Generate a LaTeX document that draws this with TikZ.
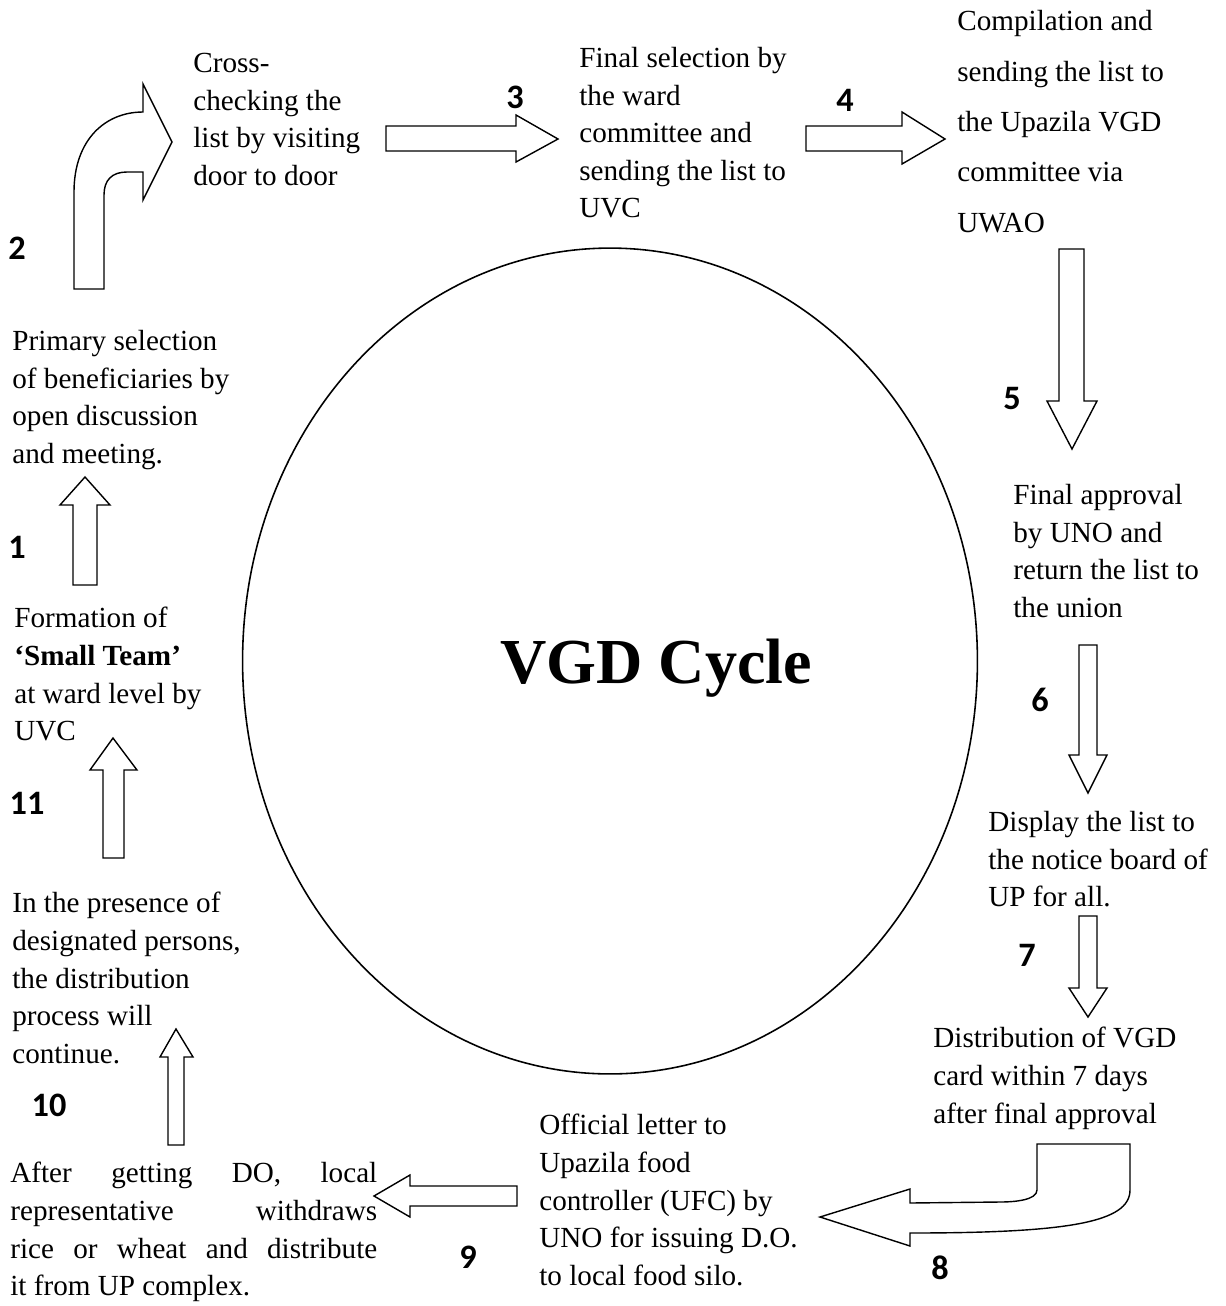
\documentclass[tikz,border=0pt]{standalone}
\usepackage{fontspec}
\setmainfont{Liberation Serif}
\newfontfamily\numfont{Carlito}
\usetikzlibrary{positioning,shapes.geometric}

\begin{document}
\begin{tikzpicture}[x=0.02cm, y=-0.02cm, >=latex]
			\tikzstyle{step text}=[anchor=north west, inner sep=0pt, align=left, font=\fontsize{16.6}{21.4}\selectfont]
			\tikzstyle{step number}=[inner sep=0pt, font=\numfont\bfseries\fontsize{19.5}{21}\selectfont]
			\tikzstyle{block arrow}=[draw, line width=0.8pt, fill=white, line join=miter]
			\useasboundingbox (0,0) rectangle (1226,1306);
			%Centre
			\node[draw, ellipse, line width=0.9pt, minimum width=14.7cm, minimum height=16.52cm](cycle) at (610,661){};
			\node[font=\fontsize{36.5}{40}\selectfont\bfseries](title) at (656,668){VGD Cycle};
			%Steps
			\node[step text](formation) at (14,607){Formation of\\\textbf{`Small Team'}\\at ward level by\\UVC};
			\node[step text](primary) at (12,330){Primary selection\\of beneficiaries by\\open discussion\\and meeting.};
			\node[step text](crosscheck) at (193,53){Cross-\\checking the\\list by visiting\\door to door};
			\node[step text](wardsel) at (579,47){Final selection by\\the ward\\committee and\\sending the list to\\UVC};
			\node[step text, font=\fontsize{16.6}{28.7}\selectfont](compile) at (957,10){Compilation and\\sending the list to\\the Upazila VGD\\committee via\\UWAO};
			\node[step text](approval) at (1013,484){Final approval\\by UNO and\\return the list to\\the union};
			\node[step text](display) at (988,811){Display the list to\\the notice board of\\UP for all.};
			\node[step text](distrib) at (933,1027){Distribution of VGD\\card within 7 days\\after final approval};
			\node[step text](letter) at (539,1114){Official letter to\\Upazila food\\controller (UFC) by\\UNO for issuing D.O.\\to local food silo.};
			\node[step text, align=justify, text width=7.34cm](withdraw) at (10,1162){After getting DO, local\linebreak representative withdraws\linebreak rice or wheat and distribute\linebreak it from UP complex.};
			\node[step text](presence) at (12,892){In the presence of\\designated persons,\\the distribution\\process will\\continue.};
			%Numbers
			\node[step number](n1) at (17,547){1};
			\node[step number](n2) at (17,248){2};
			\node[step number](n3) at (515,97){3};
			\node[step number](n4) at (845,100){4};
			\node[step number](n5) at (1012,398){5};
			\node[step number](n6) at (1040,700){6};
			\node[step number](n7) at (1027,955){7};
			\node[step number](n8) at (940,1268){8};
			\node[step number](n9) at (468,1257){9};
			\node[step number](n10) at (49,1105){10};
			\node[step number](n11) at (27,803){11};
			%Arrows Up the left side
			\draw[block arrow] (73,585) -- (73,505) -- (60,505) -- (85,477) -- (110,505) -- (97,505) -- (97,585) -- cycle;
			\draw[block arrow] (74,289) -- (74,192) .. controls (74,140) and (105,112) .. (143,112) -- (143,84) -- (172,142) -- (143,200) -- (143,172) -- (127,172) .. controls (112,172) and (104,180) .. (104,195) -- (104,289) -- cycle;
			%Arrows Along the top
			\draw[block arrow] (386,126) -- (516,126) -- (516,115) -- (558,139) -- (516,162) -- (516,151) -- (386,151) -- cycle;
			\draw[block arrow] (806,126) -- (902,126) -- (902,112) -- (945,139) -- (902,164) -- (902,151) -- (806,151) -- cycle;
			%Arrows Down the right side
			\draw[block arrow] (1059,249) -- (1084,249) -- (1084,401) -- (1097,401) -- (1072,449) -- (1047,401) -- (1059,401) -- cycle;
			\draw[block arrow] (1079,645) -- (1097,645) -- (1097,755) -- (1107,755) -- (1088,793) -- (1069,755) -- (1079,755) -- cycle;
			\draw[block arrow] (1079,916) -- (1097,916) -- (1097,988) -- (1107,988) -- (1088,1017) -- (1069,988) -- (1079,988) -- cycle;
			%Arrows Along the bottom
			\draw[block arrow] (1037,1144) -- (1130,1144) -- (1130,1190) .. controls (1130,1222) and (1070,1233) .. (910,1233) -- (910,1246) -- (820,1217) -- (910,1189) -- (910,1203) -- (1000,1202) .. controls (1015,1202) and (1037,1200) .. (1037,1190) -- cycle;
			\draw[block arrow] (517,1186) -- (410,1186) -- (410,1175) -- (374,1196) -- (410,1217) -- (410,1206) -- (517,1206) -- cycle;
			%Arrows Back up
			\draw[block arrow] (168,1145) -- (168,1057) -- (160,1057) -- (176,1029) -- (193,1057) -- (184,1057) -- (184,1145) -- cycle;
			\draw[block arrow] (103,858) -- (103,770) -- (90,770) -- (113,738) -- (137,770) -- (124,770) -- (124,858) -- cycle;
\end{tikzpicture}
\end{document}
